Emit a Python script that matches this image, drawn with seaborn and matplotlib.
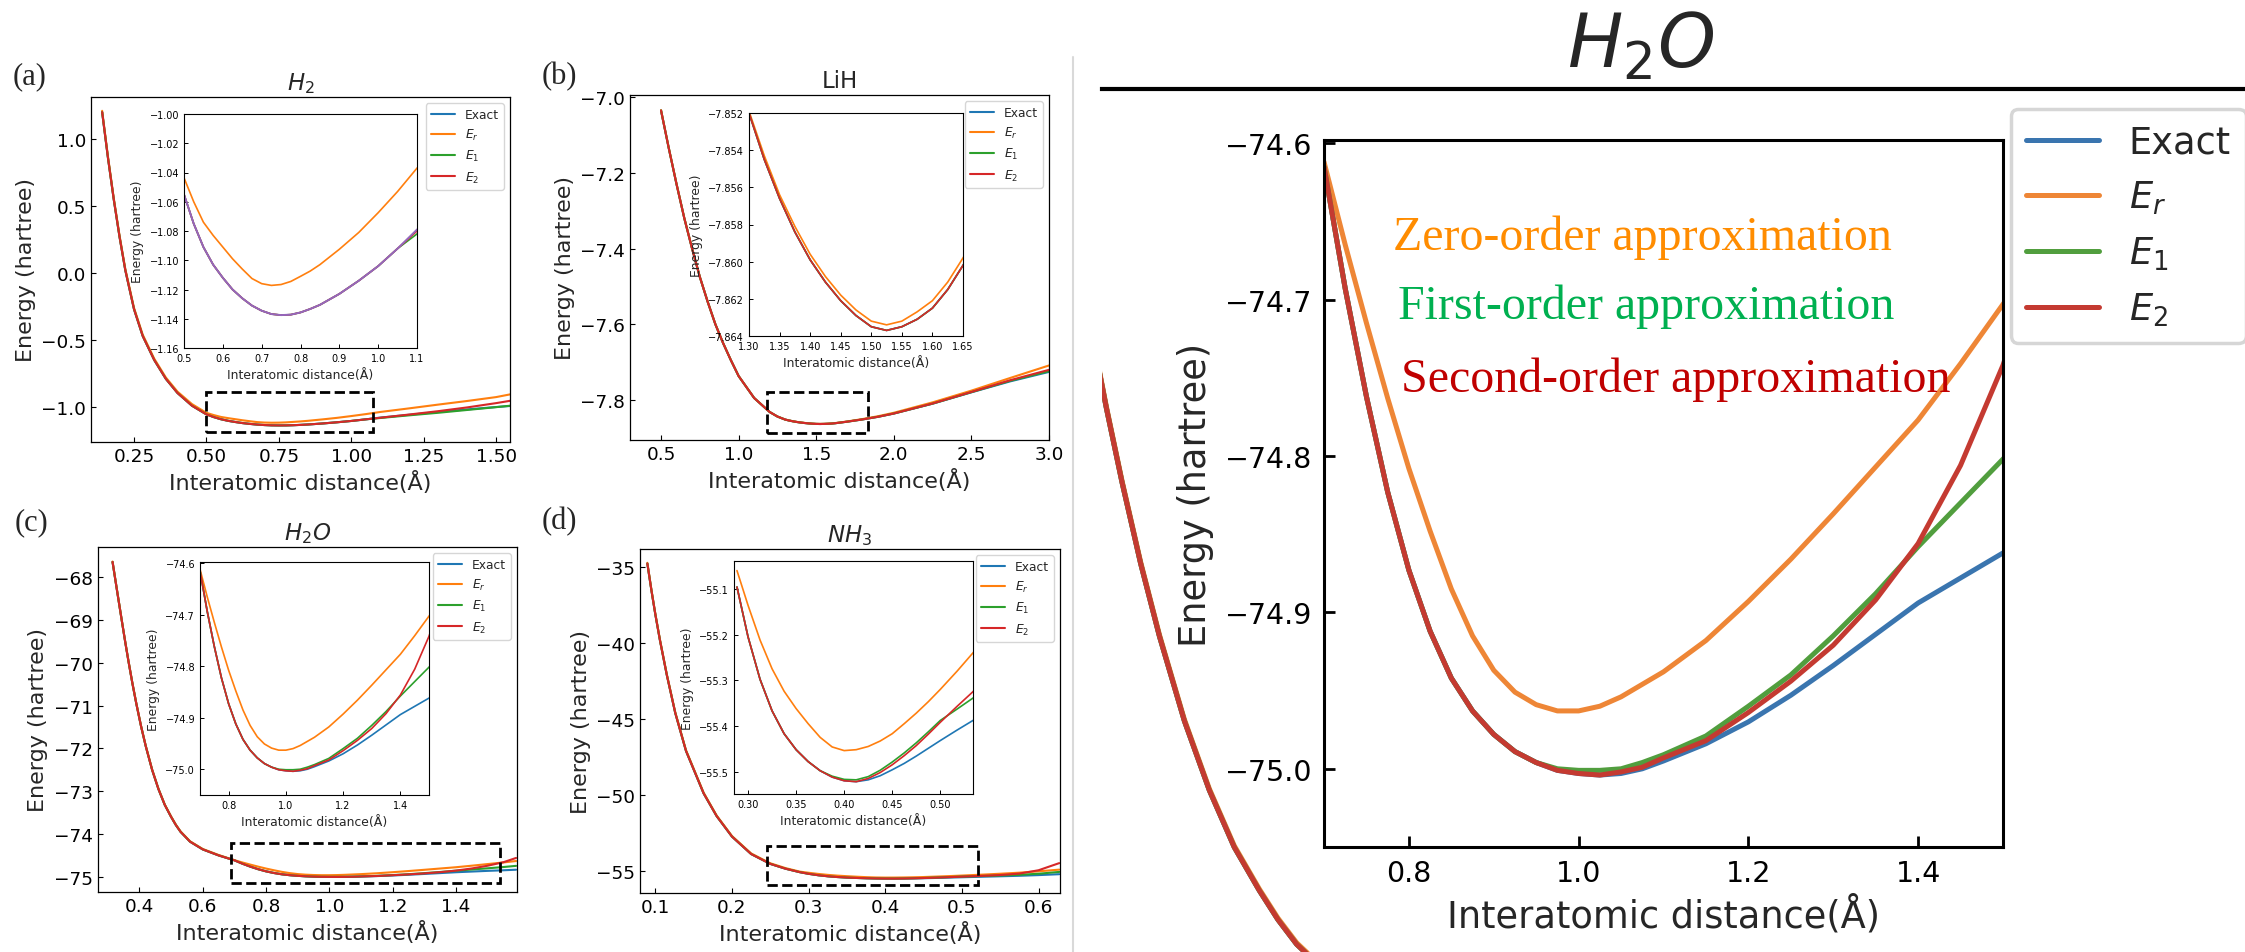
import numpy as np
import seaborn as sns
import matplotlib.pyplot as plt
from matplotlib.patches import Rectangle
from matplotlib.lines import Line2D

# ---------------- data ----------------
labels = ['Exact', '$E_r$', '$E_1$', '$E_2$']

# H2
r_h2 = [0.14, 0.16, 0.18, 0.20, 0.22, 0.25, 0.28, 0.32, 0.36, 0.40, 0.45, 0.50, 0.525, 0.55, 0.575, 0.60,
        0.625, 0.65, 0.675, 0.70, 0.725, 0.75, 0.775, 0.80, 0.825, 0.85, 0.90, 0.95, 1.00, 1.05, 1.10,
        1.20, 1.30, 1.40, 1.50, 1.55]
exact_h2 = [1.20, 0.86, 0.55, 0.27, 0.02, -0.27, -0.47, -0.65, -0.79, -0.895, -0.99, -1.055, -1.075, -1.091,
            -1.103, -1.112, -1.120, -1.126, -1.1310, -1.1345, -1.1368, -1.1375, -1.1372, -1.1357, -1.1333,
            -1.1305, -1.123, -1.114, -1.104, -1.092, -1.079, -1.058, -1.037, -1.018, -1.000, -0.992]
er_h2 = [1.21, 0.87, 0.56, 0.28, 0.03, -0.26, -0.46, -0.64, -0.78, -0.885, -0.978, -1.0436, -1.060, -1.074,
         -1.083, -1.091, -1.099, -1.106, -1.1125, -1.1160, -1.1172, -1.1166, -1.1145, -1.111, -1.1074,
         -1.103, -1.0925, -1.081, -1.0675, -1.053, -1.037, -1.010, -0.982, -0.955, -0.926, -0.905]
e1_h2 = [1.20, 0.86, 0.55, 0.27, 0.02, -0.27, -0.47, -0.65, -0.79, -0.895, -0.99, -1.055, -1.075, -1.091,
         -1.103, -1.112, -1.120, -1.126, -1.1310, -1.1345, -1.1368, -1.1375, -1.1372, -1.1357, -1.1333,
         -1.1305, -1.123, -1.114, -1.104, -1.092, -1.082, -1.062, -1.043, -1.022, -1.001, -0.990]
e2_h2 = [1.20, 0.86, 0.55, 0.27, 0.02, -0.27, -0.47, -0.65, -0.79, -0.895, -0.99, -1.055, -1.075, -1.091,
         -1.103, -1.112, -1.120, -1.126, -1.1310, -1.1345, -1.1368, -1.1375, -1.1372, -1.1357, -1.1333,
         -1.1305, -1.123, -1.114, -1.104, -1.092, -1.080, -1.056, -1.031, -1.003, -0.971, -0.953]

# LiH
r_lih = [0.50, 0.55, 0.60, 0.65, 0.70, 0.75, 0.80, 0.85, 0.90, 0.95, 1.00, 1.10, 1.20, 1.25, 1.30, 1.325,
         1.35, 1.375, 1.40, 1.425, 1.45, 1.475, 1.50, 1.525, 1.55, 1.575, 1.60, 1.625, 1.65, 1.70, 1.80,
         1.90, 2.00, 2.25, 2.50, 2.75, 3.00]
exact_lih = [-7.035, -7.135, -7.230, -7.320, -7.400, -7.475, -7.540, -7.600, -7.650, -7.695, -7.737, -7.795,
             -7.832, -7.844, -7.8520, -7.8545, -7.8566, -7.8584, -7.8599, -7.8611, -7.8621, -7.8629, -7.8635,
             -7.8637, -7.8635, -7.8631, -7.8625, -7.8615, -7.8602, -7.8575, -7.8515, -7.8445, -7.8360,
             -7.8100, -7.7800, -7.7510, -7.7260]
er_lih = [-7.034, -7.134, -7.229, -7.319, -7.399, -7.4745, -7.5395, -7.5996, -7.6497, -7.6947, -7.7368, -7.7948,
          -7.8319, -7.8439, -7.8519, -7.8543, -7.8564, -7.8581, -7.8596, -7.8608, -7.8618, -7.8626, -7.8632,
          -7.8634, -7.8632, -7.8627, -7.8621, -7.8611, -7.8598, -7.8570, -7.8505, -7.8430, -7.8340,
          -7.8065, -7.7755, -7.7420, -7.7090]
e1_lih = [-7.035, -7.135, -7.230, -7.320, -7.400, -7.475, -7.540, -7.600, -7.650, -7.695, -7.737, -7.795,
          -7.832, -7.844, -7.8520, -7.8545, -7.8566, -7.8584, -7.8599, -7.8611, -7.8621, -7.8629, -7.8635,
          -7.8637, -7.8635, -7.8631, -7.8625, -7.8615, -7.8602, -7.8575, -7.8515, -7.8445, -7.8360,
          -7.8098, -7.7795, -7.7495, -7.7240]
e2_lih = [-7.035, -7.135, -7.230, -7.320, -7.400, -7.475, -7.540, -7.600, -7.650, -7.695, -7.737, -7.795,
          -7.832, -7.844, -7.8520, -7.8545, -7.8566, -7.8584, -7.8599, -7.8611, -7.8621, -7.8629, -7.8635,
          -7.8637, -7.8635, -7.8631, -7.8625, -7.8615, -7.8602, -7.8575, -7.8515, -7.8445, -7.8360,
          -7.8095, -7.7790, -7.7480, -7.7205]

# H2O
r_h2o = [0.315, 0.33, 0.345, 0.355, 0.365, 0.3775, 0.39, 0.405, 0.42, 0.44, 0.46, 0.48, 0.50, 0.515, 0.53,
         0.56, 0.60, 0.65, 0.70, 0.725, 0.75, 0.775, 0.80, 0.825, 0.85, 0.875, 0.90, 0.925, 0.95, 0.975,
         1.00, 1.025, 1.05, 1.075, 1.10, 1.15, 1.20, 1.25, 1.30, 1.35, 1.40, 1.45, 1.50, 1.55, 1.59]
exact_h2o = [-67.64, -68.35, -69.05, -69.51, -69.95, -70.47, -70.95, -71.48, -71.95, -72.50, -72.95, -73.32,
             -73.60, -73.79, -73.95, -74.18, -74.36, -74.50, -74.615, -74.693, -74.762, -74.823, -74.873,
             -74.912, -74.942, -74.963, -74.978, -74.989, -74.996, -75.001, -75.003, -75.004, -75.003,
             -75.000, -74.995, -74.984, -74.970, -74.953, -74.934, -74.914, -74.894, -74.878, -74.862,
             -74.848, -74.835]
er_h2o = [-67.63, -68.34, -69.04, -69.50, -69.94, -70.46, -70.94, -71.47, -71.94, -72.49, -72.94, -73.31,
          -73.59, -73.78, -73.94, -74.17, -74.35, -74.49, -74.612, -74.665, -74.715, -74.763, -74.808,
          -74.848, -74.885, -74.915, -74.937, -74.951, -74.959, -74.963, -74.963, -74.960, -74.954,
          -74.946, -74.938, -74.918, -74.893, -74.866, -74.837, -74.807, -74.777, -74.741, -74.703,
          -74.665, -74.632]
e1_h2o = [-67.64, -68.35, -69.05, -69.51, -69.95, -70.47, -70.95, -71.48, -71.95, -72.50, -72.95, -73.32,
          -73.60, -73.79, -73.95, -74.18, -74.36, -74.50, -74.615, -74.693, -74.762, -74.823, -74.873,
          -74.912, -74.942, -74.963, -74.978, -74.989, -74.996, -75.000, -75.001, -75.001, -75.000,
          -74.996, -74.991, -74.979, -74.960, -74.940, -74.915, -74.888, -74.858, -74.830, -74.802,
          -74.772, -74.745]
e2_h2o = [-67.64, -68.35, -69.05, -69.51, -69.95, -70.47, -70.95, -71.48, -71.95, -72.50, -72.95, -73.32,
          -73.60, -73.79, -73.95, -74.18, -74.36, -74.50, -74.615, -74.693, -74.762, -74.823, -74.873,
          -74.912, -74.942, -74.963, -74.978, -74.989, -74.996, -75.001, -75.003, -75.004, -75.002,
          -74.999, -74.993, -74.982, -74.964, -74.944, -74.921, -74.892, -74.856, -74.806, -74.742,
          -74.660, -74.560]

# NH3
r_nh3 = [0.0896, 0.095, 0.10, 0.106, 0.115, 0.126, 0.14, 0.163, 0.18, 0.20, 0.225, 0.25, 0.27, 0.2885, 0.30,
         0.3125, 0.325, 0.3375, 0.35, 0.3625, 0.375, 0.3875, 0.40, 0.4125, 0.425, 0.4375, 0.45, 0.4625,
         0.475, 0.4875, 0.50, 0.5175, 0.534, 0.55, 0.575, 0.60, 0.627]
exact_nh3 = [-34.75, -36.55, -38.10, -39.80, -42.10, -44.60, -47.10, -49.90, -51.40, -52.75, -53.90, -54.55,
             -54.87, -55.096, -55.205, -55.298, -55.367, -55.417, -55.452, -55.478, -55.498, -55.512, -55.520,
             -55.522, -55.518, -55.509, -55.496, -55.482, -55.466, -55.449, -55.432, -55.409, -55.388,
             -55.368, -55.335, -55.290, -55.230]
er_nh3 = [-34.70, -36.50, -38.05, -39.75, -42.05, -44.55, -47.05, -49.85, -51.36, -52.71, -53.86, -54.51,
          -54.83, -55.060, -55.136, -55.212, -55.275, -55.324, -55.362, -55.395, -55.425, -55.446, -55.454,
          -55.452, -55.445, -55.433, -55.417, -55.395, -55.372, -55.347, -55.320, -55.280, -55.240,
          -55.200, -55.130, -55.040, -54.930]
e1_nh3 = [-34.75, -36.55, -38.10, -39.80, -42.10, -44.60, -47.10, -49.90, -51.40, -52.75, -53.90, -54.55,
          -54.87, -55.096, -55.205, -55.298, -55.367, -55.417, -55.452, -55.478, -55.498, -55.510, -55.517,
          -55.518, -55.511, -55.497, -55.479, -55.459, -55.437, -55.413, -55.388, -55.363, -55.339,
          -55.315, -55.270, -55.200, -55.080]
e2_nh3 = [-34.75, -36.55, -38.10, -39.80, -42.10, -44.60, -47.10, -49.90, -51.40, -52.75, -53.90, -54.55,
          -54.87, -55.096, -55.205, -55.298, -55.367, -55.417, -55.452, -55.478, -55.498, -55.512, -55.520,
          -55.522, -55.515, -55.502, -55.485, -55.465, -55.443, -55.418, -55.392, -55.357, -55.325,
          -55.285, -55.190, -54.970, -54.500]

# ---------------- style ----------------
sns.set_style('ticks', {'xtick.direction': 'in', 'ytick.direction': 'in',
                        'axes.edgecolor': 'black', 'xtick.color': 'black', 'ytick.color': 'black'})
plt.rcParams['font.family'] = ['DejaVu Sans']
plt.rcParams['mathtext.fontset'] = 'dejavusans'

W, H = 2245, 953
fig = plt.figure(figsize=(W / 100, H / 100), dpi=100)
tab = ['#1f77b4', '#ff7f0e', '#2ca02c', '#d62728']
deep = ['#3a75af', '#ee8636', '#519e3e', '#c43a31']


def box(l, r, t, b):
    return [l / W, 1 - b / H, (r - l) / W, (b - t) / H]


def curves(ax, r, ys, colors, lw, lo=None):
    xs = np.asarray(r)
    keep = xs >= (lo if lo is not None else -1e9)
    for y, c in zip(ys, colors):
        sns.lineplot(x=xs[keep], y=np.asarray(y)[keep], ax=ax, color=c, linewidth=lw,
                     estimator=None, sort=False)


panels = [
    dict(tag='(a)', title='$H_2$', r=r_h2, ys=[exact_h2, er_h2, e1_h2, e2_h2],
         main=(91, 510, 98, 443), xlim=(0.1015, 1.548), ylim=(-1.261, 1.313),
         xt=[0.25, 0.5, 0.75, 1.0, 1.25, 1.5], yt=[-1.0, -0.5, 0.0, 0.5, 1.0],
         ins=(184, 417, 115, 349), ixlim=(0.5, 1.1), iylim=(-1.16, -1.0),
         ixt=[0.5, 0.6, 0.7, 0.8, 0.9, 1.0, 1.1], iyt=[-1.16, -1.14, -1.12, -1.10, -1.08, -1.06, -1.04, -1.02, -1.00],
         lo=0.5, rect=(0.5, -1.187, 0.575, 0.299), lab=(30, 77)),
    dict(tag='(b)', title='LiH', r=r_lih, ys=[exact_lih, er_lih, e1_lih, e2_lih],
         main=(630, 1049, 96, 441), xlim=(0.30, 3.0), ylim=(-7.906, -6.994),
         xt=[0.5, 1.0, 1.5, 2.0, 2.5, 3.0], yt=[-7.8, -7.6, -7.4, -7.2, -7.0],
         ins=(749, 963, 114, 337), ixlim=(1.30, 1.65), iylim=(-7.864, -7.852),
         ixt=[1.30, 1.35, 1.40, 1.45, 1.50, 1.55, 1.60, 1.65],
         iyt=[-7.864, -7.862, -7.860, -7.858, -7.856, -7.854, -7.852],
         lo=1.30, rect=(1.183, -7.887, 0.651, 0.108), lab=(559, 77)),
    dict(tag='(c)', title='$H_2O$', r=r_h2o, ys=[exact_h2o, er_h2o, e1_h2o, e2_h2o],
         main=(98, 517, 548, 893), xlim=(0.269, 1.593), ylim=(-75.356, -67.29),
         xt=[0.4, 0.6, 0.8, 1.0, 1.2, 1.4], yt=[-75, -74, -73, -72, -71, -70, -69, -68],
         ins=(200, 429, 563, 796), ixlim=(0.70, 1.50), iylim=(-75.05, -74.598),
         ixt=[0.8, 1.0, 1.2, 1.4], iyt=[-75.0, -74.9, -74.8, -74.7, -74.6],
         lo=0.70, rect=(0.69, -75.145, 0.849, 0.935), lab=(31, 523)),
    dict(tag='(d)', title='$NH_3$', r=r_nh3, ys=[exact_nh3, er_nh3, e1_nh3, e2_nh3],
         main=(640, 1060, 550, 894), xlim=(0.080, 0.628), ylim=(-56.47, -33.79),
         xt=[0.1, 0.2, 0.3, 0.4, 0.5, 0.6], yt=[-55, -50, -45, -40, -35],
         ins=(734, 973, 562, 795), ixlim=(0.2854, 0.534), iylim=(-55.549, -55.039),
         ixt=[0.30, 0.35, 0.40, 0.45, 0.50], iyt=[-55.5, -55.4, -55.3, -55.2, -55.1],
         lo=0.2885, rect=(0.2456, -55.95, 0.2754, 2.58), lab=(559, 522)),
]

for p in panels:
    ax = fig.add_axes(box(*p['main']))
    curves(ax, p['r'], p['ys'], tab, 1.5)
    ax.set_xlim(*p['xlim'])
    ax.set_ylim(*p['ylim'])
    ax.set_xticks(p['xt'])
    ax.set_yticks(p['yt'])
    ax.ticklabel_format(useOffset=False)
    ax.tick_params(labelsize=13.3, length=3.5, width=0.8)
    ax.set_xlabel('Interatomic distance(Å)', fontsize=16)
    ax.set_ylabel('Energy (hartree)', fontsize=16)
    ax.set_title(p['title'], fontsize=16.5)
    for s in ax.spines.values():
        s.set_linewidth(0.9)
    x0, y0, w, h = p['rect']
    ax.add_patch(Rectangle((x0, y0), w, h, fill=False, ec='black', lw=2, ls='--', zorder=5))
    ax.legend(ax.lines[:4], labels, loc='upper right', fontsize=8.8)

    ai = fig.add_axes(box(*p['ins']))
    if p['tag'] == '(a)':
        # in the H2 inset the exact curve shows as a purple line over the others
        curves(ai, p['r'], p['ys'][1:], tab[1:], 1.2, p['lo'])
        curves(ai, p['r'], p['ys'][:1], ['#9467bd'], 1.4, p['lo'])
    else:
        curves(ai, p['r'], p['ys'], tab, 1.2, p['lo'])
    ai.set_xlim(*p['ixlim'])
    ai.set_ylim(*p['iylim'])
    ai.set_xticks(p['ixt'])
    ai.set_yticks(p['iyt'])
    ai.ticklabel_format(useOffset=False)
    ai.tick_params(labelsize=7, length=3, width=0.7)
    ai.set_xlabel('Interatomic distance(Å)', fontsize=8.9)
    ai.set_ylabel('Energy (hartree)', fontsize=8.9)

    fig.text(p['lab'][0] / W, 1 - p['lab'][1] / H, p['tag'], fontsize=22,
             family='Liberation Serif', ha='center', va='center')

# separator between the two halves
fig.add_artist(Line2D([1073 / W, 1073 / W], [0, 1 - 58 / H], color='#d9d9d9', lw=1.5,
                      transform=fig.transFigure))

# ---------------- right half: enlarged H2O ----------------
axb = fig.add_axes(box(1102, 2245, 90, 953))
curves(axb, r_h2o, [exact_h2o, er_h2o, e1_h2o, e2_h2o], deep, 3.6)
axb.set_xlim(0.374, 1.290)
axb.set_ylim(-74.0, -68.40)
for s in ['left', 'right', 'bottom']:
    axb.spines[s].set_visible(False)
axb.spines['top'].set_linewidth(3)
axb.set_xticks([])
axb.set_yticks([])
axb.patch.set_alpha(0)

fig.text(1641 / W, 1 - 68 / H, '$H_2O$', fontsize=53, ha='center', va='baseline')

axr = fig.add_axes(box(1324, 2003, 141, 848))
curves(axr, r_h2o, [exact_h2o, er_h2o, e1_h2o, e2_h2o], deep, 3.6, 0.70)
axr.set_xlim(0.70, 1.50)
axr.set_ylim(-75.05, -74.598)
axr.set_xticks([0.8, 1.0, 1.2, 1.4])
axr.set_yticks([-75.0, -74.9, -74.8, -74.7, -74.6])
axr.ticklabel_format(useOffset=False)
axr.tick_params(labelsize=20.5, length=8, width=2, pad=8.5)
for s in axr.spines.values():
    s.set_linewidth(2.2)
axr.set_xlabel('Interatomic distance(Å)', fontsize=26.5, labelpad=6)
axr.set_ylabel('Energy (hartree)', fontsize=26.5, labelpad=8)

notes = [('Zero-order approximation', '#ff8c00', 1393, 250),
         ('First-order approximation', '#00b050', 1398, 319),
         ('Second-order approximation', '#c00000', 1401, 392)]
for txt, col, x, y in notes:
    fig.text(x / W, 1 - y / H, txt, color=col, fontsize=34.5, family='Liberation Serif',
             ha='left', va='baseline')

leg = axr.legend(axr.lines[:4], labels, loc='upper left', bbox_to_anchor=(2011 / W, 1 - 110 / H),
                 bbox_transform=fig.transFigure, borderaxespad=0, fontsize=26.5)
leg.get_frame().set_linewidth(2.5)

fig.savefig('out.png', dpi=100)
